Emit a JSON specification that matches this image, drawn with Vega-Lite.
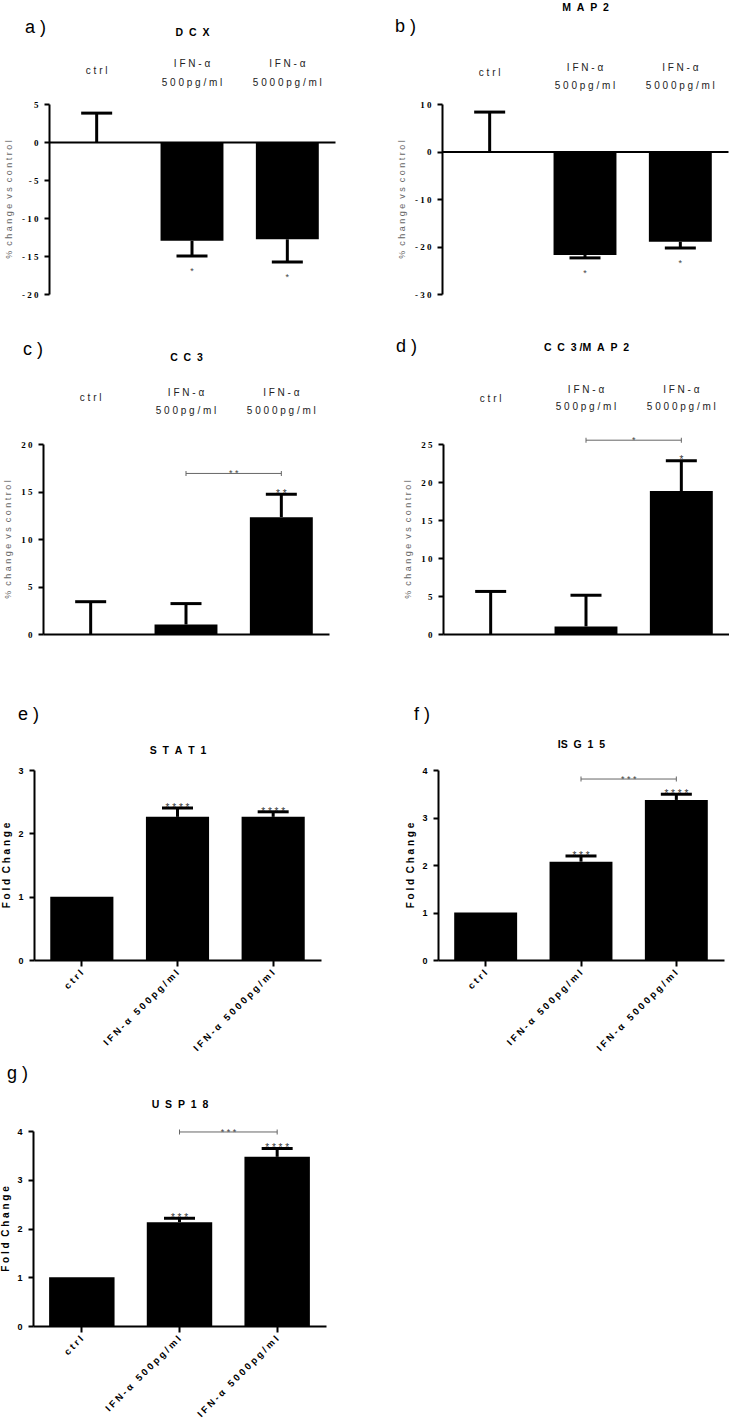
{
"$schema": "https://vega.github.io/schema/vega-lite/v6.json",
"padding": 0,
"autosize": {"type": "pad"},
"columns": 4,
"spacing": 0,
"bounds": "flush",
"align": "each",
"config": {"view": {"stroke": null}, "font": "Liberation Sans", "axis": {"grid": false, "labelOverlap": false}},
"datasets": {
"dcx": [{"cat":"ctrl","value":0,"err":3.8,"sig":""},{"cat":"IFN-α 500pg/ml","value":-13.0,"err":-15.0,"sig":"*"},{"cat":"IFN-α 5000pg/ml","value":-12.8,"err":-15.8,"sig":"*"}],
"map2": [{"cat":"ctrl","value":0,"err":8.3,"sig":""},{"cat":"IFN-α 500pg/ml","value":-21.8,"err":-22.4,"sig":"*"},{"cat":"IFN-α 5000pg/ml","value":-19.0,"err":-20.3,"sig":"*"}],
"cc3": [{"cat":"ctrl","value":0,"err":3.4,"sig":""},{"cat":"IFN-α 500pg/ml","value":1.0,"err":3.2,"sig":""},{"cat":"IFN-α 5000pg/ml","value":12.3,"err":14.7,"sig":"* *"}],
"cc3_br": [{"from":"IFN-α 500pg/ml","to":"IFN-α 5000pg/ml","y":16.9,"sig":"* *"}],
"cc3map2": [{"cat":"ctrl","value":0,"err":5.6,"sig":""},{"cat":"IFN-α 500pg/ml","value":1.0,"err":5.1,"sig":""},{"cat":"IFN-α 5000pg/ml","value":18.8,"err":22.8,"sig":"*"}],
"cc3map2_br": [{"from":"IFN-α 500pg/ml","to":"IFN-α 5000pg/ml","y":25.5,"sig":"*"}],
"stat1": [{"cat":"ctrl","value":1.0,"err":null,"sig":""},{"cat":"IFN-α 500pg/ml","value":2.26,"err":2.40,"sig":"* * * *"},{"cat":"IFN-α 5000pg/ml","value":2.26,"err":2.34,"sig":"* * * *"}],
"isg15": [{"cat":"ctrl","value":1.0,"err":null,"sig":""},{"cat":"IFN-α 500pg/ml","value":2.07,"err":2.19,"sig":"* * *"},{"cat":"IFN-α 5000pg/ml","value":3.37,"err":3.49,"sig":"* * * *"}],
"isg15_br": [{"from":"IFN-α 500pg/ml","to":"IFN-α 5000pg/ml","y":3.81,"sig":"* * *"}],
"usp18": [{"cat":"ctrl","value":1.0,"err":null,"sig":""},{"cat":"IFN-α 500pg/ml","value":2.13,"err":2.21,"sig":"* * *"},{"cat":"IFN-α 5000pg/ml","value":3.47,"err":3.64,"sig":"* * * *"}],
"usp18_br": [{"from":"IFN-α 500pg/ml","to":"IFN-α 5000pg/ml","y":3.98,"sig":"* * *"}]
},
"concat": [
{"width": 1, "height": 104, "data": {"values": []}, "mark": "point"},
{"width": 1, "height": 1, "data": {"values": []}, "mark": "point"},
{"width": 1, "height": 1, "data": {"values": []}, "mark": "point"},
{"width": 1, "height": 1, "data": {"values": []}, "mark": "point"},

{"width": 33, "height": 340, "data": {"values": []}, "mark": "point"},
{
 "width": 302, "height": 190,
 "data": {"name": "dcx"},
 "resolve": {"axis": {"x": "independent", "y": "independent"}},
 "title": {"text": "a )", "anchor": "start", "frame": "group", "align": "left", "baseline": "middle", "offset": 0, "dx": -8, "dy": 19, "fontSize": 18, "fontWeight": "normal", "font": "Liberation Sans", "color": "#000"},
 "layer": [
  {"mark": {"type": "bar", "color": "#000", "opacity": 1},
   "encoding": {
    "x": {"field": "cat", "type": "nominal", "scale": {"domain": ["ctrl","IFN-α 500pg/ml","IFN-α 5000pg/ml"], "range": [16, 302], "paddingInner": 0.34, "paddingOuter": 0.17},
      "axis": {"orient": "top", "domain": false, "ticks": false, "tickSize": 0, "labelAngle": 0, "labelAlign": "center", "labelBaseline": "middle", "labelPadding": {"condition": {"test": "datum.value == 'ctrl'", "value": 34}, "value": 41}, "labelLineHeight": 19, "labelFont": "Liberation Sans", "labelFontSize": 10, "labelColor": "#222", "labelExpr": "datum.value == 'ctrl' ? 'c t r l' : datum.value == 'IFN-α 500pg/ml' ? ['I F N - α', '5 0 0 p g / m l'] : ['I F N - α', '5 0 0 0 p g / m l']", "title": "D\u00a0\u00a0C\u00a0\u00a0X", "titleY": -72, "titleBaseline": "middle", "titleFont": "Liberation Sans", "titleFontSize": 10.5, "titleFontWeight": "bold", "titleColor": "#000"}},
    "y": {"field": "value", "type": "quantitative", "scale": {"domain": [-20, 5], "nice": false},
      "axis": {"offset": -16, "values": [-20,-15,-10,-5,0,5], "labelExpr": "(datum.value < 0 ? '- ' : '') + (abs(datum.value) >= 10 ? floor(abs(datum.value) / 10) + ' ' + (abs(datum.value) % 10) : '' + abs(datum.value))", "labelFont": "Liberation Serif", "labelFontWeight": "bold", "labelFontSize": 9, "labelColor": "#000", "labelPadding": 6, "tickSize": 5, "tickWidth": 2, "tickColor": "#000", "domainWidth": 2, "domainColor": "#000", "title": "%\u00a0\u00a0c h a n g e\u00a0\u00a0v s\u00a0\u00a0c o n t r o l", "titleFont": "Liberation Sans", "titleFontSize": 9, "titleFontWeight": "normal", "titleColor": "#666", "titlePadding": 8}}}},
  {"mark": {"type": "rule", "color": "#000", "strokeWidth": 3},
   "encoding": {"x": {"field": "cat", "type": "nominal", "axis": {"orient": "bottom", "offset": -152, "labels": false, "ticks": false, "domain": true, "domainWidth": 2, "domainColor": "#000", "title": null}}, "y": {"field": "value", "type": "quantitative", "axis": null}, "y2": {"field": "err"}}},
  {"mark": {"type": "text", "font": "Liberation Sans", "fontSize": 9, "color": "#444", "opacity": 1, "baseline": "alphabetic", "dy": 18},
   "encoding": {"x": {"field": "cat", "type": "nominal", "axis": null}, "y": {"field": "err", "type": "quantitative", "axis": null}, "text": {"field": "sig"}}},
  {"mark": {"type": "tick", "color": "#000", "thickness": 3, "size": 31, "opacity": 1},
   "encoding": {"x": {"field": "cat", "type": "nominal", "axis": null}, "y": {"field": "err", "type": "quantitative", "axis": null}}}
 ]
},
{"width": 103, "height": 1, "data": {"values": []}, "mark": "point"},
{
 "width": 290, "height": 190,
 "data": {"name": "map2"},
 "resolve": {"axis": {"x": "independent", "y": "independent"}},
 "title": {"text": "b )", "anchor": "start", "frame": "group", "align": "left", "baseline": "middle", "offset": 0, "dx": -43, "dy": 43, "fontSize": 18, "fontWeight": "normal", "font": "Liberation Sans", "color": "#000"},
 "layer": [
  {"mark": {"type": "bar", "color": "#000", "opacity": 1},
   "encoding": {
    "x": {"field": "cat", "type": "nominal", "scale": {"domain": ["ctrl","IFN-α 500pg/ml","IFN-α 5000pg/ml"], "range": [4, 290], "paddingInner": 0.34, "paddingOuter": 0.17},
      "axis": {"orient": "top", "domain": false, "ticks": false, "tickSize": 0, "labelAngle": 0, "labelAlign": "center", "labelBaseline": "middle", "labelPadding": {"condition": {"test": "datum.value == 'ctrl'", "value": 32}, "value": 37}, "labelLineHeight": 18, "labelFont": "Liberation Sans", "labelFontSize": 10, "labelColor": "#222", "labelExpr": "datum.value == 'ctrl' ? 'c t r l' : datum.value == 'IFN-α 500pg/ml' ? ['I F N - α', '5 0 0 p g / m l'] : ['I F N - α', '5 0 0 0 p g / m l']", "title": "M\u00a0\u00a0A\u00a0\u00a0P\u00a0\u00a02", "titleY": -97, "titleBaseline": "middle", "titleFont": "Liberation Sans", "titleFontSize": 10.5, "titleFontWeight": "bold", "titleColor": "#000"}},
    "y": {"field": "value", "type": "quantitative", "scale": {"domain": [-30, 10], "nice": false},
      "axis": {"offset": -4, "values": [-30,-20,-10,0,10], "labelExpr": "(datum.value < 0 ? '- ' : '') + (abs(datum.value) >= 10 ? floor(abs(datum.value) / 10) + ' ' + (abs(datum.value) % 10) : '' + abs(datum.value))", "labelFont": "Liberation Serif", "labelFontWeight": "bold", "labelFontSize": 9, "labelColor": "#000", "labelPadding": 6, "tickSize": 5, "tickWidth": 2, "tickColor": "#000", "domainWidth": 2, "domainColor": "#000", "title": "%\u00a0\u00a0c h a n g e\u00a0\u00a0v s\u00a0\u00a0c o n t r o l", "titleFont": "Liberation Sans", "titleFontSize": 9, "titleFontWeight": "normal", "titleColor": "#666", "titlePadding": 8}}}},
  {"mark": {"type": "rule", "color": "#000", "strokeWidth": 3},
   "encoding": {"x": {"field": "cat", "type": "nominal", "axis": {"orient": "bottom", "offset": -142.5, "labels": false, "ticks": false, "domain": true, "domainWidth": 2, "domainColor": "#000", "title": null}}, "y": {"field": "value", "type": "quantitative", "axis": null}, "y2": {"field": "err"}}},
  {"mark": {"type": "text", "font": "Liberation Sans", "fontSize": 9, "color": "#444", "opacity": 1, "baseline": "alphabetic", "dy": 18},
   "encoding": {"x": {"field": "cat", "type": "nominal", "axis": null}, "y": {"field": "err", "type": "quantitative", "axis": null}, "text": {"field": "sig"}}},
  {"mark": {"type": "tick", "color": "#000", "thickness": 3, "size": 31, "opacity": 1},
   "encoding": {"x": {"field": "cat", "type": "nominal", "axis": null}, "y": {"field": "err", "type": "quantitative", "axis": null}}}
 ]
},

{"width": 33, "height": 326, "data": {"values": []}, "mark": "point"},
{
 "width": 296, "height": 190,
 "data": {"name": "cc3"},
 "resolve": {"axis": {"x": "independent", "y": "independent"}},
 "title": {"text": "c )", "anchor": "start", "frame": "group", "align": "left", "baseline": "middle", "offset": 0, "dx": -10, "dy": 16, "fontSize": 18, "fontWeight": "normal", "font": "Liberation Sans", "color": "#000"},
 "layer": [
  {"mark": {"type": "bar", "color": "#000", "opacity": 1},
   "encoding": {
    "x": {"field": "cat", "type": "nominal", "scale": {"domain": ["ctrl","IFN-α 500pg/ml","IFN-α 5000pg/ml"], "range": [10, 296], "paddingInner": 0.34, "paddingOuter": 0.17},
      "axis": {"orient": "top", "domain": false, "ticks": false, "tickSize": 0, "labelAngle": 0, "labelAlign": "center", "labelBaseline": "middle", "labelPadding": {"condition": {"test": "datum.value == 'ctrl'", "value": 47}, "value": 52}, "labelLineHeight": 18, "labelFont": "Liberation Sans", "labelFontSize": 10, "labelColor": "#222", "labelExpr": "datum.value == 'ctrl' ? 'c t r l' : datum.value == 'IFN-α 500pg/ml' ? ['I F N - α', '5 0 0 p g / m l'] : ['I F N - α', '5 0 0 0 p g / m l']", "title": "C\u00a0\u00a0C\u00a0\u00a03", "titleY": -87, "titleBaseline": "middle", "titleFont": "Liberation Sans", "titleFontSize": 10.5, "titleFontWeight": "bold", "titleColor": "#000"}},
    "y": {"field": "value", "type": "quantitative", "scale": {"domain": [0, 20], "nice": false},
      "axis": {"offset": -10, "values": [0,5,10,15,20], "labelExpr": "(datum.value < 0 ? '- ' : '') + (abs(datum.value) >= 10 ? floor(abs(datum.value) / 10) + ' ' + (abs(datum.value) % 10) : '' + abs(datum.value))", "labelFont": "Liberation Serif", "labelFontWeight": "bold", "labelFontSize": 9, "labelColor": "#000", "labelPadding": 6, "tickSize": 5, "tickWidth": 2, "tickColor": "#000", "domainWidth": 2, "domainColor": "#000", "title": "%\u00a0\u00a0c h a n g e\u00a0\u00a0v s\u00a0\u00a0c o n t r o l", "titleFont": "Liberation Sans", "titleFontSize": 9, "titleFontWeight": "normal", "titleColor": "#666", "titlePadding": 8}}}},
  {"mark": {"type": "rule", "color": "#000", "strokeWidth": 3},
   "encoding": {"x": {"field": "cat", "type": "nominal", "axis": {"orient": "bottom", "offset": 0, "labels": false, "ticks": false, "domain": true, "domainWidth": 2, "domainColor": "#000", "title": null}}, "y": {"field": "value", "type": "quantitative", "axis": null}, "y2": {"field": "err"}}},
  {"mark": {"type": "text", "font": "Liberation Sans", "fontSize": 10, "color": "#333", "opacity": 1, "baseline": "alphabetic", "dy": 2.7},
   "encoding": {"x": {"field": "cat", "type": "nominal", "axis": null}, "y": {"field": "err", "type": "quantitative", "axis": null}, "text": {"field": "sig"}}},
  {"mark": {"type": "tick", "color": "#000", "thickness": 3, "size": 31, "opacity": 1},
   "encoding": {"x": {"field": "cat", "type": "nominal", "axis": null}, "y": {"field": "err", "type": "quantitative", "axis": null}}},
  {"data": {"name": "cc3_br"}, "mark": {"type": "rule", "color": "#666", "strokeWidth": 1},
   "encoding": {"x": {"field": "from", "type": "nominal", "axis": null}, "x2": {"field": "to"}, "y": {"field": "y", "type": "quantitative", "axis": null}}},
  {"data": {"name": "cc3_br"}, "mark": {"type": "tick", "orient": "vertical", "color": "#666", "thickness": 1, "size": 5, "opacity": 1},
   "encoding": {"x": {"field": "from", "type": "nominal", "axis": null}, "y": {"field": "y", "type": "quantitative", "axis": null}}},
  {"data": {"name": "cc3_br"}, "mark": {"type": "tick", "orient": "vertical", "color": "#666", "thickness": 1, "size": 5, "opacity": 1},
   "encoding": {"x": {"field": "to", "type": "nominal", "axis": null}, "y": {"field": "y", "type": "quantitative", "axis": null}}},
  {"data": {"name": "cc3_br"}, "mark": {"type": "text", "font": "Liberation Sans", "fontSize": 9, "color": "#444", "opacity": 1, "baseline": "alphabetic", "dx": 47.8, "dy": 2.6},
   "encoding": {"x": {"field": "from", "type": "nominal", "axis": null}, "y": {"field": "y", "type": "quantitative", "axis": null}, "text": {"field": "sig"}}}
 ]
},
{"width": 103, "height": 1, "data": {"values": []}, "mark": "point"},
{
 "width": 291, "height": 190,
 "data": {"name": "cc3map2"},
 "resolve": {"axis": {"x": "independent", "y": "independent"}},
 "title": {"text": "d )", "anchor": "start", "frame": "group", "align": "left", "baseline": "middle", "offset": 0, "dx": -42, "dy": 23, "fontSize": 18, "fontWeight": "normal", "font": "Liberation Sans", "color": "#000"},
 "layer": [
  {"mark": {"type": "bar", "color": "#000", "opacity": 1},
   "encoding": {
    "x": {"field": "cat", "type": "nominal", "scale": {"domain": ["ctrl","IFN-α 500pg/ml","IFN-α 5000pg/ml"], "range": [5, 291], "paddingInner": 0.34, "paddingOuter": 0.17},
      "axis": {"orient": "top", "domain": false, "ticks": false, "tickSize": 0, "labelAngle": 0, "labelAlign": "center", "labelBaseline": "middle", "labelPadding": {"condition": {"test": "datum.value == 'ctrl'", "value": 46}, "value": 55}, "labelLineHeight": 17, "labelFont": "Liberation Sans", "labelFontSize": 10, "labelColor": "#222", "labelExpr": "datum.value == 'ctrl' ? 'c t r l' : datum.value == 'IFN-α 500pg/ml' ? ['I F N - α', '5 0 0 p g / m l'] : ['I F N - α', '5 0 0 0 p g / m l']", "title": "C\u00a0\u00a0C\u00a0\u00a03\u00a0/M\u00a0\u00a0A\u00a0\u00a0P\u00a0\u00a02", "titleY": -97, "titleBaseline": "middle", "titleFont": "Liberation Sans", "titleFontSize": 10.5, "titleFontWeight": "bold", "titleColor": "#000"}},
    "y": {"field": "value", "type": "quantitative", "scale": {"domain": [0, 25], "nice": false},
      "axis": {"offset": -5, "values": [0,5,10,15,20,25], "labelExpr": "(datum.value < 0 ? '- ' : '') + (abs(datum.value) >= 10 ? floor(abs(datum.value) / 10) + ' ' + (abs(datum.value) % 10) : '' + abs(datum.value))", "labelFont": "Liberation Serif", "labelFontWeight": "bold", "labelFontSize": 9, "labelColor": "#000", "labelPadding": 6, "tickSize": 5, "tickWidth": 2, "tickColor": "#000", "domainWidth": 2, "domainColor": "#000", "title": "%\u00a0\u00a0c h a n g e\u00a0\u00a0v s\u00a0\u00a0c o n t r o l", "titleFont": "Liberation Sans", "titleFontSize": 9, "titleFontWeight": "normal", "titleColor": "#666", "titlePadding": 8}}}},
  {"mark": {"type": "rule", "color": "#000", "strokeWidth": 3},
   "encoding": {"x": {"field": "cat", "type": "nominal", "axis": {"orient": "bottom", "offset": 0, "labels": false, "ticks": false, "domain": true, "domainWidth": 2, "domainColor": "#000", "title": null}}, "y": {"field": "value", "type": "quantitative", "axis": null}, "y2": {"field": "err"}}},
  {"mark": {"type": "text", "font": "Liberation Sans", "fontSize": 10, "color": "#333", "opacity": 1, "baseline": "alphabetic", "dy": 2.7},
   "encoding": {"x": {"field": "cat", "type": "nominal", "axis": null}, "y": {"field": "err", "type": "quantitative", "axis": null}, "text": {"field": "sig"}}},
  {"mark": {"type": "tick", "color": "#000", "thickness": 3, "size": 31, "opacity": 1},
   "encoding": {"x": {"field": "cat", "type": "nominal", "axis": null}, "y": {"field": "err", "type": "quantitative", "axis": null}}},
  {"data": {"name": "cc3map2_br"}, "mark": {"type": "rule", "color": "#666", "strokeWidth": 1},
   "encoding": {"x": {"field": "from", "type": "nominal", "axis": null}, "x2": {"field": "to"}, "y": {"field": "y", "type": "quantitative", "axis": null}}},
  {"data": {"name": "cc3map2_br"}, "mark": {"type": "tick", "orient": "vertical", "color": "#666", "thickness": 1, "size": 5, "opacity": 1},
   "encoding": {"x": {"field": "from", "type": "nominal", "axis": null}, "y": {"field": "y", "type": "quantitative", "axis": null}}},
  {"data": {"name": "cc3map2_br"}, "mark": {"type": "tick", "orient": "vertical", "color": "#666", "thickness": 1, "size": 5, "opacity": 1},
   "encoding": {"x": {"field": "to", "type": "nominal", "axis": null}, "y": {"field": "y", "type": "quantitative", "axis": null}}},
  {"data": {"name": "cc3map2_br"}, "mark": {"type": "text", "font": "Liberation Sans", "fontSize": 9, "color": "#444", "opacity": 1, "baseline": "alphabetic", "dx": 47.8, "dy": 2.6},
   "encoding": {"x": {"field": "from", "type": "nominal", "axis": null}, "y": {"field": "y", "type": "quantitative", "axis": null}, "text": {"field": "sig"}}}
 ]
},

{"width": 33, "height": 361, "data": {"values": []}, "mark": "point"},
{
 "width": 288, "height": 190,
 "data": {"name": "stat1"},
 "resolve": {"axis": {"x": "independent", "y": "independent"}},
 "title": {"text": "e )", "anchor": "start", "frame": "group", "align": "left", "baseline": "middle", "offset": 0, "dx": -15, "dy": -12, "fontSize": 18, "fontWeight": "normal", "font": "Liberation Sans", "color": "#000"},
 "layer": [
  {"mark": {"type": "bar", "color": "#000", "opacity": 1},
   "encoding": {
    "x": {"field": "cat", "type": "nominal", "scale": {"domain": ["ctrl","IFN-α 500pg/ml","IFN-α 5000pg/ml"], "range": [1, 288], "paddingInner": 0.34, "paddingOuter": 0.17},
      "axis": {"orient": "bottom", "labelAngle": -45, "labelAlign": "right", "labelBaseline": "middle", "labelPadding": 5, "labelFont": "Liberation Sans", "labelFontWeight": "bold", "labelFontSize": 9.5, "labelColor": "#000", "tickSize": 6, "tickWidth": 2, "tickColor": "#000", "domainWidth": 2, "domainColor": "#000", "title": null, "labelExpr": "datum.value == 'ctrl' ? 'c t r l' : datum.value == 'IFN-α 500pg/ml' ? 'I F N - α\u00a0\u00a0 5 0 0 p g / m l' : 'I F N - α\u00a0\u00a0 5 0 0 0 p g / m l'"}},
    "y": {"field": "value", "type": "quantitative", "scale": {"domain": [0, 3], "nice": false},
      "axis": {"offset": -1, "values": [0,1,2,3], "format": "d", "labelFont": "Liberation Sans", "labelFontWeight": "bold", "labelFontSize": 9, "labelColor": "#000", "labelPadding": 6, "tickSize": 5, "tickWidth": 2, "tickColor": "#000", "domainWidth": 2, "domainColor": "#000", "title": "F o l d\u00a0\u00a0C h a n g e", "titleFont": "Liberation Sans", "titleFontSize": 10, "titleFontWeight": "bold", "titleColor": "#000", "titlePadding": 6}}}},
  {"transform": [{"filter": "datum.err != null"}], "mark": {"type": "rule", "color": "#000", "strokeWidth": 3},
   "encoding": {"x": {"field": "cat", "type": "nominal", "axis": {"orient": "top", "labels": false, "ticks": false, "domain": false, "title": "S\u00a0\u00a0T\u00a0\u00a0A\u00a0\u00a0T\u00a0\u00a01", "titleY": -20, "titleBaseline": "middle", "titleFont": "Liberation Sans", "titleFontSize": 10.5, "titleFontWeight": "bold", "titleColor": "#000"}}, "y": {"field": "value", "type": "quantitative", "axis": null}, "y2": {"field": "err"}}},
  {"transform": [{"filter": "datum.err != null"}], "mark": {"type": "text", "font": "Liberation Sans", "fontSize": 10, "color": "#333", "opacity": 1, "baseline": "alphabetic", "dy": 2.7},
   "encoding": {"x": {"field": "cat", "type": "nominal", "axis": null}, "y": {"field": "err", "type": "quantitative", "axis": null}, "text": {"field": "sig"}}},
  {"transform": [{"filter": "datum.err != null"}], "mark": {"type": "tick", "color": "#000", "thickness": 3, "size": 31, "opacity": 1},
   "encoding": {"x": {"field": "cat", "type": "nominal", "axis": null}, "y": {"field": "err", "type": "quantitative", "axis": null}}}
 ]
},
{"width": 103, "height": 1, "data": {"values": []}, "mark": "point"},
{
 "width": 286, "height": 190,
 "data": {"name": "isg15"},
 "resolve": {"axis": {"x": "independent", "y": "independent"}},
 "title": {"text": "f )", "anchor": "start", "frame": "group", "align": "left", "baseline": "middle", "offset": 0, "dx": -24, "dy": -6.5, "fontSize": 18, "fontWeight": "normal", "font": "Liberation Sans", "color": "#000"},
 "layer": [
  {"mark": {"type": "bar", "color": "#000", "opacity": 1},
   "encoding": {
    "x": {"field": "cat", "type": "nominal", "scale": {"domain": ["ctrl","IFN-α 500pg/ml","IFN-α 5000pg/ml"], "paddingInner": 0.34, "paddingOuter": 0.17},
      "axis": {"orient": "bottom", "labelAngle": -45, "labelAlign": "right", "labelBaseline": "middle", "labelPadding": 5, "labelFont": "Liberation Sans", "labelFontWeight": "bold", "labelFontSize": 9.5, "labelColor": "#000", "tickSize": 6, "tickWidth": 2, "tickColor": "#000", "domainWidth": 2, "domainColor": "#000", "title": null, "labelExpr": "datum.value == 'ctrl' ? 'c t r l' : datum.value == 'IFN-α 500pg/ml' ? 'I F N - α\u00a0\u00a0 5 0 0 p g / m l' : 'I F N - α\u00a0\u00a0 5 0 0 0 p g / m l'"}},
    "y": {"field": "value", "type": "quantitative", "scale": {"domain": [0, 4], "nice": false},
      "axis": {"values": [0,1,2,3,4], "format": "d", "labelFont": "Liberation Sans", "labelFontWeight": "bold", "labelFontSize": 9, "labelColor": "#000", "labelPadding": 6, "tickSize": 5, "tickWidth": 2, "tickColor": "#000", "domainWidth": 2, "domainColor": "#000", "title": "F o l d\u00a0\u00a0C h a n g e", "titleFont": "Liberation Sans", "titleFontSize": 10, "titleFontWeight": "bold", "titleColor": "#000", "titlePadding": 6}}}},
  {"transform": [{"filter": "datum.err != null"}], "mark": {"type": "rule", "color": "#000", "strokeWidth": 3},
   "encoding": {"x": {"field": "cat", "type": "nominal", "axis": {"orient": "top", "labels": false, "ticks": false, "domain": false, "title": "IS\u00a0\u00a0G\u00a0\u00a01\u00a0\u00a05", "titleY": -26, "titleBaseline": "middle", "titleFont": "Liberation Sans", "titleFontSize": 10.5, "titleFontWeight": "bold", "titleColor": "#000"}}, "y": {"field": "value", "type": "quantitative", "axis": null}, "y2": {"field": "err"}}},
  {"transform": [{"filter": "datum.err != null"}], "mark": {"type": "text", "font": "Liberation Sans", "fontSize": 10, "color": "#333", "opacity": 1, "baseline": "alphabetic", "dy": 2.7},
   "encoding": {"x": {"field": "cat", "type": "nominal", "axis": null}, "y": {"field": "err", "type": "quantitative", "axis": null}, "text": {"field": "sig"}}},
  {"transform": [{"filter": "datum.err != null"}], "mark": {"type": "tick", "color": "#000", "thickness": 3, "size": 31, "opacity": 1},
   "encoding": {"x": {"field": "cat", "type": "nominal", "axis": null}, "y": {"field": "err", "type": "quantitative", "axis": null}}},
  {"data": {"name": "isg15_br"}, "mark": {"type": "rule", "color": "#666", "strokeWidth": 1},
   "encoding": {"x": {"field": "from", "type": "nominal", "axis": null}, "x2": {"field": "to"}, "y": {"field": "y", "type": "quantitative", "axis": null}}},
  {"data": {"name": "isg15_br"}, "mark": {"type": "tick", "orient": "vertical", "color": "#666", "thickness": 1, "size": 5, "opacity": 1},
   "encoding": {"x": {"field": "from", "type": "nominal", "axis": null}, "y": {"field": "y", "type": "quantitative", "axis": null}}},
  {"data": {"name": "isg15_br"}, "mark": {"type": "tick", "orient": "vertical", "color": "#666", "thickness": 1, "size": 5, "opacity": 1},
   "encoding": {"x": {"field": "to", "type": "nominal", "axis": null}, "y": {"field": "y", "type": "quantitative", "axis": null}}},
  {"data": {"name": "isg15_br"}, "mark": {"type": "text", "font": "Liberation Sans", "fontSize": 9, "color": "#444", "opacity": 1, "baseline": "alphabetic", "dx": 47.8, "dy": 2.6},
   "encoding": {"x": {"field": "from", "type": "nominal", "axis": null}, "y": {"field": "y", "type": "quantitative", "axis": null}, "text": {"field": "sig"}}}
 ]
},

{"width": 33, "height": 1, "data": {"values": []}, "mark": "point"},
{
 "width": 293, "height": 195,
 "data": {"name": "usp18"},
 "resolve": {"axis": {"x": "independent", "y": "independent"}},
 "title": {"text": "g )", "anchor": "start", "frame": "group", "align": "left", "baseline": "middle", "offset": 0, "dx": -26, "dy": -7.5, "fontSize": 18, "fontWeight": "normal", "font": "Liberation Sans", "color": "#000"},
 "layer": [
  {"mark": {"type": "bar", "color": "#000", "opacity": 1},
   "encoding": {
    "x": {"field": "cat", "type": "nominal", "scale": {"domain": ["ctrl","IFN-α 500pg/ml","IFN-α 5000pg/ml"], "paddingInner": 0.33, "paddingOuter": 0.165},
      "axis": {"orient": "bottom", "labelAngle": -45, "labelAlign": "right", "labelBaseline": "middle", "labelPadding": 5, "labelFont": "Liberation Sans", "labelFontWeight": "bold", "labelFontSize": 9.5, "labelColor": "#000", "tickSize": 6, "tickWidth": 2, "tickColor": "#000", "domainWidth": 2, "domainColor": "#000", "title": null, "labelExpr": "datum.value == 'ctrl' ? 'c t r l' : datum.value == 'IFN-α 500pg/ml' ? 'I F N - α\u00a0\u00a0 5 0 0 p g / m l' : 'I F N - α\u00a0\u00a0 5 0 0 0 p g / m l'"}},
    "y": {"field": "value", "type": "quantitative", "scale": {"domain": [0, 4], "nice": false},
      "axis": {"values": [0,1,2,3,4], "format": "d", "labelFont": "Liberation Sans", "labelFontWeight": "bold", "labelFontSize": 9, "labelColor": "#000", "labelPadding": 6, "tickSize": 5, "tickWidth": 2, "tickColor": "#000", "domainWidth": 2, "domainColor": "#000", "title": "F o l d\u00a0\u00a0C h a n g e", "titleFont": "Liberation Sans", "titleFontSize": 10, "titleFontWeight": "bold", "titleColor": "#000", "titlePadding": 6}}}},
  {"transform": [{"filter": "datum.err != null"}], "mark": {"type": "rule", "color": "#000", "strokeWidth": 3},
   "encoding": {"x": {"field": "cat", "type": "nominal", "axis": {"orient": "top", "labels": false, "ticks": false, "domain": false, "title": "U\u00a0\u00a0S\u00a0\u00a0P\u00a0\u00a01\u00a0\u00a08", "titleY": -27, "titleBaseline": "middle", "titleFont": "Liberation Sans", "titleFontSize": 10.5, "titleFontWeight": "bold", "titleColor": "#000"}}, "y": {"field": "value", "type": "quantitative", "axis": null}, "y2": {"field": "err"}}},
  {"transform": [{"filter": "datum.err != null"}], "mark": {"type": "text", "font": "Liberation Sans", "fontSize": 10, "color": "#333", "opacity": 1, "baseline": "alphabetic", "dy": 2.7},
   "encoding": {"x": {"field": "cat", "type": "nominal", "axis": null}, "y": {"field": "err", "type": "quantitative", "axis": null}, "text": {"field": "sig"}}},
  {"transform": [{"filter": "datum.err != null"}], "mark": {"type": "tick", "color": "#000", "thickness": 3, "size": 31, "opacity": 1},
   "encoding": {"x": {"field": "cat", "type": "nominal", "axis": null}, "y": {"field": "err", "type": "quantitative", "axis": null}}},
  {"data": {"name": "usp18_br"}, "mark": {"type": "rule", "color": "#666", "strokeWidth": 1},
   "encoding": {"x": {"field": "from", "type": "nominal", "axis": null}, "x2": {"field": "to"}, "y": {"field": "y", "type": "quantitative", "axis": null}}},
  {"data": {"name": "usp18_br"}, "mark": {"type": "tick", "orient": "vertical", "color": "#666", "thickness": 1, "size": 5, "opacity": 1},
   "encoding": {"x": {"field": "from", "type": "nominal", "axis": null}, "y": {"field": "y", "type": "quantitative", "axis": null}}},
  {"data": {"name": "usp18_br"}, "mark": {"type": "tick", "orient": "vertical", "color": "#666", "thickness": 1, "size": 5, "opacity": 1},
   "encoding": {"x": {"field": "to", "type": "nominal", "axis": null}, "y": {"field": "y", "type": "quantitative", "axis": null}}},
  {"data": {"name": "usp18_br"}, "mark": {"type": "text", "font": "Liberation Sans", "fontSize": 9, "color": "#444", "opacity": 1, "baseline": "alphabetic", "dx": 49, "dy": 2.6},
   "encoding": {"x": {"field": "from", "type": "nominal", "axis": null}, "y": {"field": "y", "type": "quantitative", "axis": null}, "text": {"field": "sig"}}}
 ]
}
]
}
